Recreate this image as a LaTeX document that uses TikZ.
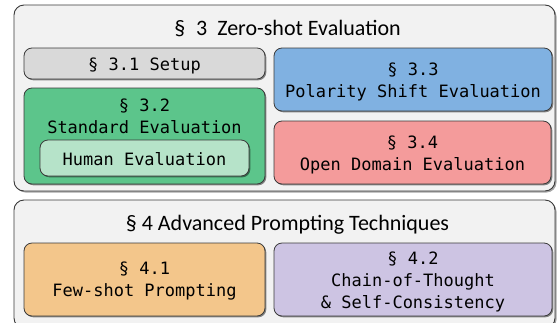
\documentclass[tikz,border=0pt]{standalone}
\usepackage{fontspec}
\setmainfont{Carlito}
\newfontfamily\cardfamily{DejaVu Sans Mono}
\usetikzlibrary{shadows}

\definecolor{edge}{HTML}{3A3A3A}
\definecolor{panelfill}{HTML}{F2F2F2}
\definecolor{setupfill}{HTML}{D9D9D9}
\definecolor{stdfill}{HTML}{5CC58B}
\definecolor{humanfill}{HTML}{B6E3C9}
\definecolor{polfill}{HTML}{80B1E1}
\definecolor{openfill}{HTML}{F49B9B}
\definecolor{fewfill}{HTML}{F3C68B}
\definecolor{cotfill}{HTML}{CDC4E3}

\begin{document}
\begin{tikzpicture}[x=1pt,y=-1pt,
  panel/.style={draw=edge, line width=0.9pt, fill=panelfill, rounded corners=10pt,
    inner sep=0pt,
    drop shadow={shadow xshift=1.5pt, shadow yshift=-1.5pt, opacity=0.35, fill=black}},
  card/.style={draw=edge, line width=0.8pt, rounded corners=8pt, inner sep=0pt,
    drop shadow={shadow xshift=1.3pt, shadow yshift=-1.3pt, opacity=0.45, fill=black}},
  cardtext/.style={align=center, inner sep=0pt, text=black,
    font=\cardfamily\fontsize{17}{22}\selectfont},
  paneltitle/.style={inner sep=0pt, font=\fontsize{22}{26}\selectfont}]
\useasboundingbox (0,0) rectangle (559,322);
\fill[white] (0,0) rectangle (559,322);

% Section 3 panel
\node[panel, minimum width=541pt, minimum height=186pt] (p3) at (284.5,98) {};
\node[paneltitle] (t3) at (287.5,29) {§\hspace{0.5em}3\hspace{0.45em}Zero-shot Evaluation};

\node[card, fill=setupfill, minimum width=241pt, minimum height=31pt] (s31) at (144.5,63.5) {};
\node[cardtext] (s31t) at ([yshift=-2pt]s31) {§ 3.1 Setup};
\node[card, fill=stdfill, minimum width=241pt, minimum height=96pt] (s32) at (144.5,136) {};
\node[cardtext] (s32t) at (144.5,116) {§ 3.2\\Standard Evaluation};
\node[card, fill=humanfill, minimum width=209pt, minimum height=36pt] (hum) at (144.5,158) {};
\node[cardtext] (humt) at ([yshift=-1.5pt]hum) {Human Evaluation};
\node[card, fill=polfill, minimum width=278pt, minimum height=63pt] (s33) at (413,79.5) {};
\node[cardtext] (s33t) at ([yshift=-2.5pt]s33) {§ 3.3\\Polarity Shift Evaluation};
\node[card, fill=openfill, minimum width=277pt, minimum height=63pt] (s34) at (412.5,152.5) {};
\node[cardtext] (s34t) at ([yshift=-2.5pt]s34) {§ 3.4\\Open Domain Evaluation};

% Section 4 panel
\node[panel, minimum width=541pt, minimum height=128pt] (p4) at (284.5,264) {};
\node[paneltitle] (t4) at (287.5,225) {§ 4 Advanced Prompting Techniques};

\node[card, fill=fewfill, minimum width=241pt, minimum height=73pt] (s41) at (144.5,279.5) {};
\node[cardtext] (s41t) at ([yshift=-2pt]s41) {§ 4.1\\Few-shot Prompting};
\node[card, fill=cotfill, minimum width=278pt, minimum height=73pt] (s42) at (413,279.5) {};
\node[cardtext] (s42t) at ([yshift=-2pt]s42) {§ 4.2\\Chain-of-Thought\\\& Self-Consistency};
\end{tikzpicture}
\end{document}
